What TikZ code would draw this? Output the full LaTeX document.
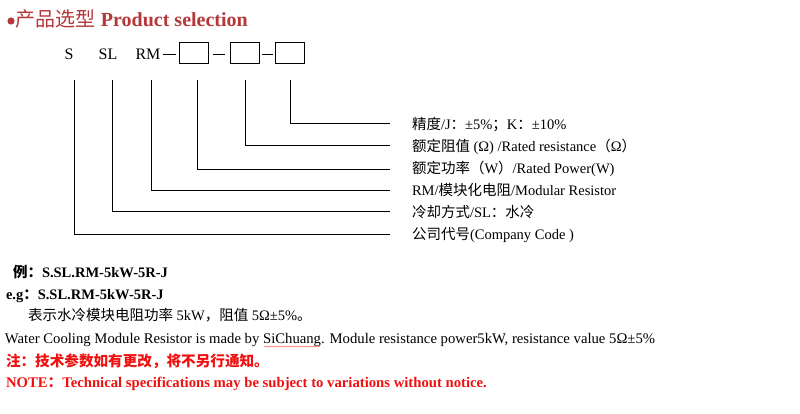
\documentclass[tikz,border=0pt]{standalone}
\usepackage{fontspec}
\setmainfont{Liberation Serif}
\newfontfamily\cjk{Noto Sans CJK SC}
\usetikzlibrary{decorations.pathmorphing}
\definecolor{headred}{HTML}{B5373A}
\definecolor{notered}{HTML}{F01010}
\tikzset{
  txt/.style={anchor=base west, inner sep=0pt, outer sep=0pt, font=\fontsize{14.5}{16}\selectfont},
  code/.style={anchor=base, inner sep=0pt, font=\fontsize{16}{18}\selectfont},
  bx/.style={draw, line width=1pt, minimum width=29pt, minimum height=21pt, inner sep=0pt},
  ln/.style={line width=0.9pt},
}
\begin{document}
\begin{tikzpicture}[x=1pt,y=-1pt]
\useasboundingbox (0,0) rectangle (800,414);
% heading
\fill[headred] (11,21) circle (3.6);
\node[txt, text=headred, font=\fontsize{20}{22}\selectfont] (head) at (16,26.5) {{\cjk 产品选型} \textbf{Product selection}};
% code line
\node[code] (S) at (69,60) {S};
\node[code] (SL) at (108,60) {SL};
\node[code] (RM) at (148,60) {RM};
\node[bx] (b1) at (193.5,53.5) {};
\node[bx] (b2) at (245,53.5) {};
\node[bx] (b3) at (290,53) {};
\draw[ln] (163,54) coordinate (d1a) -- (176,54) coordinate (d1b);
\draw[ln] (213,54) coordinate (d2a) -- (225,54) coordinate (d2b);
\draw[ln] (262,54) coordinate (d3a) -- (273,54) coordinate (d3b);
% tops
\coordinate (tS) at (74,80);
\coordinate (tSL) at (112.7,80);
\coordinate (tRM) at (151,80);
\coordinate (t1) at (197.7,80);
\coordinate (t2) at (245,80);
\coordinate (t3) at (290.7,80);
% ends
\coordinate (e3) at (390,123.3);
\coordinate (e2) at (390,145);
\coordinate (e1) at (390,169.3);
\coordinate (eRM) at (390,190);
\coordinate (eSL) at (390,211.7);
\coordinate (eS) at (390,234.3);
\draw[ln] (t3) |- (e3);
\draw[ln] (t2) |- (e2);
\draw[ln] (t1) |- (e1);
\draw[ln] (tRM) |- (eRM);
\draw[ln] (tSL) |- (eSL);
\draw[ln] (tS) |- (eS);
% labels
\node[txt] (l3) at (412,130) {{\cjk 精度}/J{\cjk ：}±5\%{\cjk ；}K{\cjk ：}±10\%};
\node[txt] (l2) at (412,151.5) {{\cjk 额定阻值} (Ω) /Rated resistance{\cjk （}Ω{\cjk ）}};
\node[txt] (l1) at (412,173.5) {{\cjk 额定功率（}W{\cjk ）}/Rated Power(W)};
\node[txt] (lRM) at (412,195.5) {RM/{\cjk 模块化电阻}/Modular Resistor};
\node[txt] (lSL) at (412,217) {{\cjk 冷却方式}/SL{\cjk ：水冷}};
\node[txt] (lS) at (412,239.5) {{\cjk 公司代号}(Company Code )};
% example
\node[txt, font=\fontsize{14.5}{16}\bfseries] (ex1) at (13,277) {{\cjk 例：}S.SL.RM-5kW-5R-J};
\node[txt, font=\fontsize{14.5}{16}\bfseries] (ex2) at (6,299.3) {e.g{\cjk ：}S.SL.RM-5kW-5R-J};
\node[txt] (ex3) at (28,320.7) {{\cjk 表示水冷模块电阻功率} 5kW{\cjk ，阻值} 5Ω±5\%{\cjk 。}};
\node[txt, font=\fontsize{14.7}{16}\selectfont] (ex4) at (5,343.3) {Water Cooling Module Resistor is made by SiChuang. Module resistance power5kW, resistance value 5Ω±5\%};
\draw[red!60, line width=0.5pt, decorate, decoration={snake, amplitude=0.6pt, segment length=3pt}] (264,346.5) -- (320,346.5);
% notes
\node[txt, text=notered, font=\fontsize{14.6}{16}\bfseries] (n1) at (6,366) {\cjk 注：技术参数如有更改，将不另行通知。};
\node[txt, text=notered, font=\fontsize{14.7}{16}\bfseries] (n2) at (6,387.5) {NOTE{\cjk ：}Technical specifications may be subject to variations without notice.};
\end{tikzpicture}
\end{document}
